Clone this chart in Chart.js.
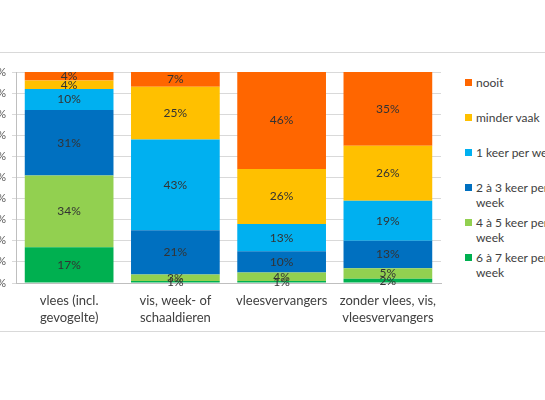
<!DOCTYPE html>
<html>
<head>
<meta charset="utf-8">
<script src="https://cdn.jsdelivr.net/npm/chart.js@4"></script>
<style>
    html, body { margin: 0; padding: 0; background: #fff; overflow: hidden; }
    body { width: 545px; height: 400px; position: relative; font-family: Lato, "Open Sans", sans-serif; }
    .frame {
        position: absolute; left: -40px; top: 52px; width: 700px; height: 278px;
        border-top: 1px solid #d9d9d9; border-bottom: 1px solid #d9d9d9;
    }
    .chart-box { position: absolute; left: -40px; top: 52px; width: 490px; height: 272px; }
    .legend { position: absolute; left: 465px; top: 75px; }
    .legend-item { height: 35px; display: flex; align-items: flex-start; }
    .legend-item .swatch { width: 7px; height: 7px; margin-top: 4px; margin-right: 4px; flex: none; }
    .legend-item .txt { width: 95px; font-size: 12px; line-height: 15px; color: #404040; }
</style>
</head>
<body>
<div class="frame"></div>
<div class="chart-box"><canvas id="voedingChart"></canvas></div>
<div class="legend" id="legend"></div>

<script>
// categorieën (x-as)
const categories = [
    ['vlees (incl.', 'gevogelte)'],
    ['vis, week- of', 'schaaldieren'],
    ['vleesvervangers'],
    ['zonder vlees, vis,', 'vleesvervangers']
];

// reeksen, van onder naar boven gestapeld
const seriesLabels = [
    '6 à 7 keer per week',
    '4 à 5 keer per week',
    '2 à 3 keer per week',
    '1 keer per week',
    'minder vaak',
    'nooit'
];
const seriesColors = ['#00B050', '#92D050', '#0070C0', '#00B0F0', '#FFC000', '#FF6600'];

const zesTotZeven = [17, 1, 1, 2];
const vierTotVijf = [34, 3, 4, 5];
const tweeTotDrie = [31, 21, 10, 13];
const eenKeer = [10, 43, 13, 19];
const minderVaak = [4, 25, 26, 26];
const nooit = [4, 7, 46, 35];

const seriesValues = [zesTotZeven, vierTotVijf, tweeTotDrie, eenKeer, minderVaak, nooit];

const yTicks = [0, 10, 20, 30, 40, 50, 60, 70, 80, 90, 100];

// percentages midden in elk segment
const segmentLabels = {
    id: 'segmentLabels',
    afterDatasetsDraw(chart) {
        const ctx = chart.ctx;
        ctx.save();
        ctx.font = '12px Lato, "Open Sans", sans-serif';
        ctx.fillStyle = '#333333';
        ctx.textAlign = 'center';
        ctx.textBaseline = 'middle';
        chart.data.datasets.forEach((ds, i) => {
            const meta = chart.getDatasetMeta(i);
            meta.data.forEach((bar, j) => {
                const y = (bar.y + bar.base) / 2;
                ctx.fillText(ds.data[j] + '%', bar.x, y);
            });
        });
        ctx.restore();
    }
};

const ctx = document.getElementById('voedingChart').getContext('2d');
new Chart(ctx, {
    type: 'bar',
    data: {
        labels: categories,
        datasets: seriesLabels.map((label, i) => ({
            label,
            data: seriesValues[i],
            backgroundColor: seriesColors[i],
            borderWidth: 0,
            barPercentage: 0.835,
            categoryPercentage: 1
        }))
    },
    options: {
        responsive: true,
        maintainAspectRatio: false,
        animation: false,
        layout: { padding: { top: 20, right: 9, left: 0, bottom: 0 } },
        plugins: {
            legend: { display: false },
            tooltip: { enabled: false }
        },
        scales: {
            x: {
                stacked: true,
                grid: { display: false, drawTicks: false },
                border: { display: true, color: '#bfbfbf' },
                ticks: {
                    color: '#404040',
                    padding: 10,
                    maxRotation: 0,
                    autoSkip: false,
                    font: { family: 'Lato, "Open Sans", sans-serif', size: 13, lineHeight: 1.25 }
                },
                afterFit(scale) { scale.height = 41; }
            },
            y: {
                stacked: true,
                min: 0,
                max: 100,
                grid: { color: '#d9d9d9', tickLength: 4 },
                border: { display: true, color: '#bfbfbf' },
                ticks: {
                    stepSize: 10,
                    padding: 6,
                    color: '#595959',
                    font: { family: 'Lato, "Open Sans", sans-serif', size: 11 },
                    callback: v => yTicks.includes(v) ? v + '%' : ''
                },
                afterFit(scale) { scale.width = 56; }
            }
        }
    },
    plugins: [segmentLabels]
});

// legenda: bovenste reeks eerst
const legend = document.getElementById('legend');
legend.innerHTML = seriesLabels.map((label, i) => ({ label, color: seriesColors[i] }))
    .reverse()
    .map(item => `
        <div class="legend-item">
            <span class="swatch" style="background:${item.color}"></span>
            <span class="txt">${item.label}</span>
        </div>
    `).join('');
</script>
</body>
</html>
